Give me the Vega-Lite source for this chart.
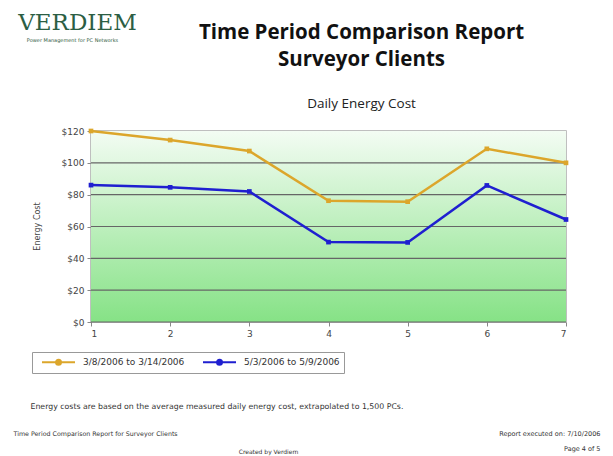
{
  "$schema": "https://vega.github.io/schema/vega-lite/v6.json",
  "autosize": {"type": "none"},
  "width": 475,
  "height": 191,
  "padding": {"left": 91, "top": 131, "right": 47, "bottom": 134},
  "background": "white",
  "view": {"stroke": "#aaaaaa", "strokeWidth": 1.5},
  "title": {
    "text": ["Time Period Comparison Report", "Surveyor Clients"],
    "subtitle": "Daily Energy Cost",
    "anchor": "middle",
    "frame": "group",
    "dx": 33,
    "dy": 119,
    "font": "Open Sans",
    "fontSize": 20.5,
    "fontWeight": "bold",
    "lineHeight": 27,
    "color": "#111111",
    "subtitleFont": "Open Sans",
    "subtitleFontSize": 13.5,
    "subtitleColor": "#222222",
    "subtitlePadding": 26,
    "offset": 20
  },
  "datasets": {
    "cost": [
      {"day": 1, "period": "3/8/2006 to 3/14/2006", "cost": 120},
      {"day": 2, "period": "3/8/2006 to 3/14/2006", "cost": 114.3},
      {"day": 3, "period": "3/8/2006 to 3/14/2006", "cost": 107.4},
      {"day": 4, "period": "3/8/2006 to 3/14/2006", "cost": 76.2},
      {"day": 5, "period": "3/8/2006 to 3/14/2006", "cost": 75.6},
      {"day": 6, "period": "3/8/2006 to 3/14/2006", "cost": 108.8},
      {"day": 7, "period": "3/8/2006 to 3/14/2006", "cost": 100},
      {"day": 1, "period": "5/3/2006 to 5/9/2006", "cost": 86},
      {"day": 2, "period": "5/3/2006 to 5/9/2006", "cost": 84.6},
      {"day": 3, "period": "5/3/2006 to 5/9/2006", "cost": 82},
      {"day": 4, "period": "5/3/2006 to 5/9/2006", "cost": 50.2},
      {"day": 5, "period": "5/3/2006 to 5/9/2006", "cost": 50},
      {"day": 6, "period": "5/3/2006 to 5/9/2006", "cost": 85.8},
      {"day": 7, "period": "5/3/2006 to 5/9/2006", "cost": 64.4}
    ],
    "grid": [{"g": 0}, {"g": 20}, {"g": 40}, {"g": 60}, {"g": 80}, {"g": 100}]
  },
  "resolve": {"axis": {"x": "independent", "y": "independent"}},
  "layer": [
    {
      "data": {"values": [{}]},
      "mark": {
        "type": "rect",
        "color": {
          "gradient": "linear", "x1": 0, "y1": 0, "x2": 0, "y2": 1,
          "stops": [
            {"offset": 0, "color": "#f3fcf3"},
            {"offset": 1, "color": "#86e286"}
          ]
        }
      },
      "encoding": {
        "x": {
          "datum": 1, "type": "quantitative",
          "scale": {"domain": [1, 7], "nice": false, "zero": false},
          "axis": {
            "orient": "bottom",
            "values": [1, 2, 3, 4, 5, 6, 7],
            "format": "d",
            "grid": false,
            "domain": false,
            "tickColor": "#888888",
            "tickSize": 4,
            "labelFont": "DejaVu Sans",
            "labelFontSize": 9,
            "labelColor": "#444444",
            "labelPadding": 3,
            "title": "Energy costs are based on the average measured daily energy cost, extrapolated to 1,500 PCs.",
            "titleX": -61,
            "titleY": 84,
            "titleAlign": "left",
            "titleAnchor": "start",
            "titleBaseline": "middle",
            "titleFont": "DejaVu Sans",
            "titleFontSize": 7.8,
            "titleFontWeight": "normal",
            "titleColor": "#333333"
          }
        },
        "x2": {"datum": 7},
        "y": {
          "datum": 0, "type": "quantitative",
          "scale": {"domain": [0, 120], "nice": false},
          "axis": {
            "orient": "left",
            "values": [0, 20, 40, 60, 80, 100, 120],
            "format": "$.0f",
            "grid": false,
            "domain": true,
            "domainColor": "#999999",
            "tickColor": "#888888",
            "tickSize": 4,
            "labelFont": "DejaVu Sans",
            "labelFontSize": 9,
            "labelColor": "#444444",
            "labelPadding": 3,
            "title": "Energy Cost",
            "titleX": -54,
            "titleY": 95,
            "titleAngle": -90,
            "titleAlign": "center",
            "titleBaseline": "middle",
            "titleFont": "DejaVu Sans",
            "titleFontSize": 8,
            "titleFontWeight": "normal",
            "titleColor": "#444444"
          }
        },
        "y2": {"datum": 120}
      }
    },
    {
      "data": {"name": "grid"},
      "mark": {"type": "rule", "color": "#666666", "strokeWidth": 1.2},
      "encoding": {
        "y": {
          "field": "g", "type": "quantitative",
          "axis": {
            "orient": "right", "labels": false, "ticks": false, "domain": false, "grid": false,
            "title": "Power Management for PC Networks",
            "titleX": -494, "titleY": -92,
            "titleAngle": 0, "titleAlign": "center", "titleBaseline": "middle",
            "titleFont": "DejaVu Sans", "titleFontSize": 5, "titleFontWeight": "normal",
            "titleColor": "#2f5a40"
          }
        }
      }
    },
    {
      "data": {"name": "cost"},
      "mark": {"type": "line", "strokeWidth": 2.5},
      "encoding": {
        "x": {
          "field": "day", "type": "quantitative",
          "axis": {
            "orient": "top", "labels": false, "ticks": false, "domain": false, "grid": false,
            "title": "VERDIEM",
            "titleX": -14, "titleY": -102,
            "titleAlign": "center", "titleBaseline": "alphabetic",
            "titleFont": "DejaVu Serif", "titleFontSize": 23, "titleFontWeight": "normal",
            "titleColor": "#2c5e44"
          }
        },
        "y": {
          "field": "cost", "type": "quantitative",
          "axis": {
            "orient": "left", "labels": false, "ticks": false, "domain": false, "grid": false,
            "title": "Created by Verdiem",
            "titleX": 177, "titleY": 320,
            "titleAngle": 0, "titleAlign": "center", "titleBaseline": "middle",
            "titleFont": "DejaVu Sans", "titleFontSize": 6, "titleFontWeight": "normal",
            "titleColor": "#333333"
          }
        },
        "color": {
          "field": "period", "type": "nominal",
          "scale": {"domain": ["3/8/2006 to 3/14/2006", "5/3/2006 to 5/9/2006"], "range": ["#dca62b", "#1f1fd0"]},
          "legend": {
            "orient": "none", "legendX": -59, "legendY": 221,
            "direction": "horizontal", "title": null,
            "strokeColor": "#999999", "fillColor": "white", "padding": 4,
            "symbolType": "M0,0H6.6M2.8,0a0.5,0.5 0 1,0 1,0a0.5,0.5 0 1,0 -1,0Z",
            "symbolSize": 100, "symbolStrokeWidth": 2,
            "labelFont": "DejaVu Sans", "labelFontSize": 9, "labelColor": "#333333",
            "labelOffset": 35,
            "columnPadding": 12
          }
        }
      }
    },
    {
      "data": {"name": "cost"},
      "mark": {"type": "point", "shape": "square", "filled": true, "size": 22, "opacity": 1},
      "encoding": {
        "x": {
          "field": "day", "type": "quantitative",
          "axis": {
            "orient": "bottom", "labels": false, "ticks": false, "domain": false, "grid": false,
            "title": "Time Period Comparison Report for Surveyor Clients",
            "titleX": -78, "titleY": 111,
            "titleAlign": "left", "titleAnchor": "start", "titleBaseline": "middle",
            "titleFont": "DejaVu Sans", "titleFontSize": 6.3, "titleFontWeight": "normal",
            "titleColor": "#333333"
          }
        },
        "y": {
          "field": "cost", "type": "quantitative",
          "axis": {
            "orient": "right", "labels": false, "ticks": false, "domain": false, "grid": false,
            "title": ["Report executed on: 7/10/2006", "Page 4 of 5"],
            "titleX": 34, "titleY": 302,
            "titleAngle": 0, "titleAlign": "right", "titleBaseline": "middle",
            "titleLineHeight": 15,
            "titleFont": "DejaVu Sans", "titleFontSize": 6.5, "titleFontWeight": "normal",
            "titleColor": "#333333"
          }
        },
        "color": {"field": "period", "type": "nominal"}
      }
    }
  ]
}
